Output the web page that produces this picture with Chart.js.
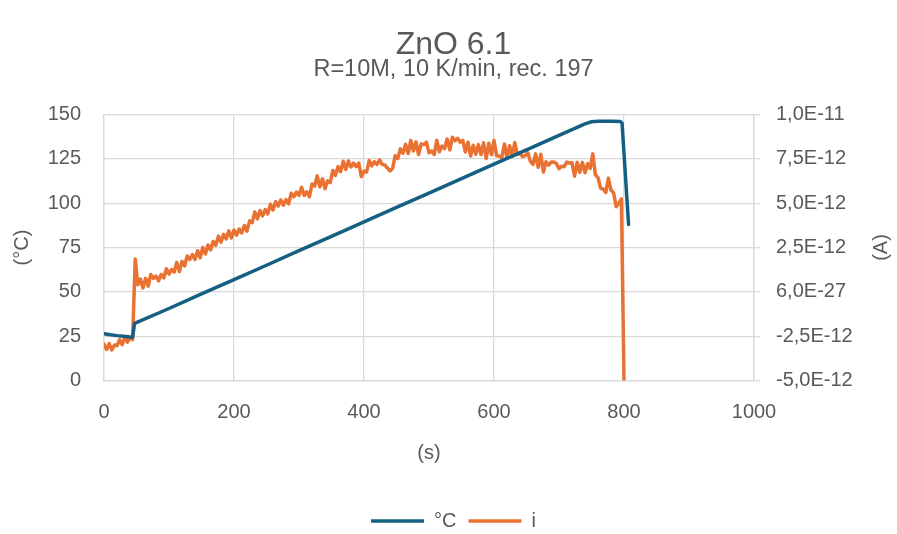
<!DOCTYPE html>
<html>
<head>
<meta charset="utf-8">
<script src="https://cdn.jsdelivr.net/npm/chart.js@4"></script>
<style>
  html, body { margin: 0; padding: 0; background: #fff; }
  #wrap { width: 897px; height: 534px; position: relative; }
</style>
</head>
<body>
<div id="wrap"><canvas id="zno"></canvas></div>
<script>
// temperature ramp, time in s and °C
const tempTime = [0, 10, 20, 30, 40, 44, 47, 100, 150, 200, 250, 300, 350, 400, 450, 500, 550, 600, 650, 700, 740, 750, 760, 780, 794, 797, 807];
const tempC = [26.4, 25.8, 25.3, 24.9, 24.5, 24.4, 32.2, 40.6, 48.8, 56.9, 65.0, 73.2, 81.3, 89.4, 97.6, 105.7, 113.8, 122.0, 130.1, 138.2, 144.7, 145.9, 146.2, 146.2, 146.1, 145.2, 88.0];

// current i, one sample every 4 s, in pA
const sampleStep = 4;
const currentPA = [
  -2.95, -3.25, -2.92, -3.28, -3.00, -3.04, -2.70, -2.98, -2.56, -2.84,
  -2.58, -2.70, 1.85, 0.40, 0.72, 0.22, 0.76, 0.32, 0.98, 0.76,
  0.88, 0.62, 0.98, 0.78, 1.30, 1.00, 1.26, 1.12, 1.66, 1.14,
  1.72, 1.46, 2.02, 1.82, 2.10, 1.82, 2.32, 1.92, 2.50, 2.14,
  2.64, 2.36, 2.84, 2.62, 3.14, 2.80, 3.24, 2.98, 3.44, 3.04,
  3.48, 3.20, 3.54, 3.32, 3.74, 3.42, 4.00, 3.90, 4.50, 4.12,
  4.58, 4.28, 4.64, 4.40, 4.94, 4.62, 5.08, 4.84, 5.18, 4.88,
  5.20, 4.96, 5.56, 5.36, 5.62, 5.44, 5.90, 5.44, 5.64, 5.36,
  6.08, 5.96, 6.54, 5.92, 6.38, 5.82, 6.26, 6.16, 6.84, 6.56,
  7.06, 6.78, 7.36, 6.90, 7.38, 7.04, 7.26, 7.06, 7.26, 6.50,
  6.80, 6.76, 7.40, 7.10, 7.34, 7.18, 7.44, 7.18, 7.16, 6.98,
  6.82, 6.96, 7.68, 7.52, 8.06, 7.82, 8.32, 7.80, 8.54, 7.94,
  8.46, 7.74, 8.34, 8.30, 8.44, 7.84, 7.94, 7.74, 8.54, 7.90,
  8.22, 8.08, 8.62, 8.00, 8.72, 8.52, 8.66, 8.44, 8.54, 7.88,
  8.44, 7.66, 8.26, 7.76, 8.30, 7.74, 8.40, 7.52, 8.38, 7.74,
  8.54, 7.68, 7.66, 7.56, 8.34, 7.58, 8.24, 7.64, 8.42, 7.74,
  7.82, 7.62, 7.68, 7.84, 7.36, 7.18, 7.78, 7.02, 7.76, 6.76,
  7.34, 7.14, 7.32, 7.32, 7.24, 6.94, 7.08, 7.06, 7.32, 7.26,
  7.28, 6.52, 7.30, 6.74, 7.30, 6.72, 7.22, 6.96, 7.78, 6.60,
  6.44, 5.84, 5.80, 5.60, 6.40, 5.74, 5.58, 4.80, 5.00, 5.24,
  -5.00
];

const rightTickValues = [-5e-12, -2.5e-12, 0, 2.5e-12, 5e-12, 7.5e-12, 1e-11];
const rightTickLabels = ['-5,0E-12', '-2,5E-12', '6,0E-27', '2,5E-12', '5,0E-12', '7,5E-12', '1,0E-11'];

const textColor = '#595959';
const gridColor = '#d9d9d9';

Chart.defaults.font.family = "'Liberation Sans', Arial, sans-serif";
Chart.defaults.font.size = 20;
Chart.defaults.color = textColor;

// right axis title reads bottom-to-top like the left one
const rightAxisTitle = {
  id: 'rightAxisTitle',
  afterDraw(chart) {
    const ctx = chart.ctx;
    const area = chart.chartArea;
    ctx.save();
    ctx.translate(chart.width - 16, (area.top + area.bottom) / 2);
    ctx.rotate(-Math.PI / 2);
    ctx.font = "20px 'Liberation Sans', Arial, sans-serif";
    ctx.fillStyle = textColor;
    ctx.textAlign = 'center';
    ctx.textBaseline = 'middle';
    ctx.fillText('(A)', 0, 0);
    ctx.restore();
  }
};

new Chart(document.getElementById('zno'), {
  type: 'line',
  data: {
    datasets: [
      {
        label: '°C',
        data: tempTime.map((t, i) => ({ x: t, y: tempC[i] })),
        borderColor: '#156082',
        backgroundColor: '#156082',
        borderWidth: 3.5,
        borderCapStyle: 'round',
        borderJoinStyle: 'round',
        yAxisID: 'y'
      },
      {
        label: 'i',
        data: currentPA.map((v, i) => ({ x: i * sampleStep, y: v * 1e-12 })),
        borderColor: '#E97132',
        backgroundColor: '#E97132',
        borderWidth: 3.5,
        borderCapStyle: 'round',
        borderJoinStyle: 'round',
        yAxisID: 'y1'
      }
    ]
  },
  options: {
    responsive: true,
    maintainAspectRatio: false,
    animation: false,
    elements: { point: { radius: 0 }, line: { tension: 0 } },
    layout: { padding: { top: 0, left: 10, right: 0, bottom: -7 } },
    plugins: {
      title: {
        display: true,
        text: 'ZnO 6.1',
        color: textColor,
        font: { size: 32, weight: 'normal', lineHeight: 0.9 },
        padding: { top: 30.6, bottom: 0 }
      },
      subtitle: {
        display: true,
        text: 'R=10M, 10 K/min, rec. 197',
        color: textColor,
        font: { size: 23.5, lineHeight: 0.9 },
        padding: { top: 0, bottom: 33.95 }
      },
      legend: {
        position: 'bottom',
        labels: {
          usePointStyle: true,
          pointStyle: 'line',
          pointStyleWidth: 53,
          padding: 12,
          color: textColor,
          font: { size: 20 }
        }
      },
      tooltip: { enabled: false }
    },
    scales: {
      x: {
        type: 'linear',
        min: 0,
        max: 1000,
        ticks: { stepSize: 200, padding: 19.5, callback: (v) => String(v) },
        grid: { color: gridColor, lineWidth: 1.3, drawTicks: false },
        border: { color: gridColor, width: 1.3 },
        title: { display: true, text: '(s)', padding: { top: 0, bottom: 34 } },
        afterFit: (scale) => { scale.height = 118.5; }
      },
      y: {
        position: 'left',
        min: 0,
        max: 150,
        ticks: { stepSize: 25, padding: 23 },
        grid: { color: gridColor, lineWidth: 1.3, drawTicks: false },
        border: { color: gridColor, width: 1.3 },
        title: { display: true, text: '(°C)', padding: { top: 0, bottom: 0 } },
        afterFit: (scale) => { scale.width = 94; }
      },
      y1: {
        position: 'right',
        min: -5e-12,
        max: 1e-11,
        afterBuildTicks: (scale) => { scale.ticks = rightTickValues.map(v => ({ value: v })); },
        ticks: { padding: 16, callback: (v, i) => rightTickLabels[i] },
        grid: { drawOnChartArea: false, color: gridColor, lineWidth: 1.3, tickLength: 6 },
        border: { color: gridColor, width: 1.3 },
        afterFit: (scale) => { scale.width = 143; }
      }
    }
  },
  plugins: [rightAxisTitle]
});
</script>
</body>
</html>
